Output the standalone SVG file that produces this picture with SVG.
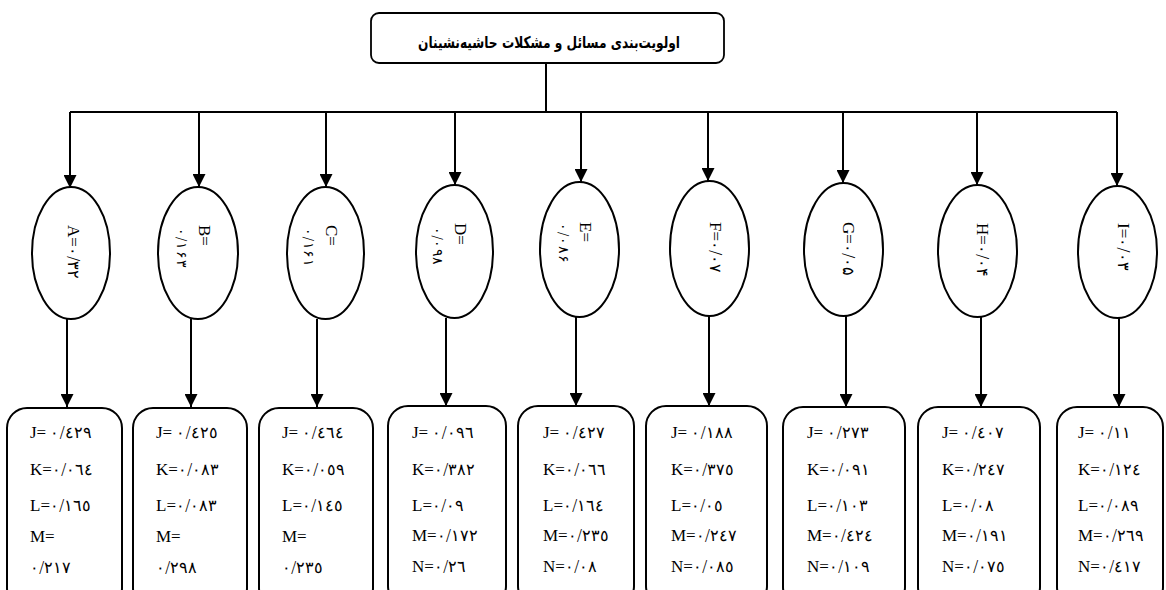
<svg xmlns="http://www.w3.org/2000/svg" width="1166" height="590" viewBox="0 0 1166 590">
<defs>
<marker id="ah" markerUnits="userSpaceOnUse" markerWidth="13" markerHeight="13" refX="13" refY="6.5" orient="auto"><path d="M0,0 L13,6.5 L0,13 z" fill="#000"/></marker>
<style>
.ln{stroke:#000;stroke-width:2;fill:none}
.ar{stroke:#000;stroke-width:2;fill:none;marker-end:url(#ah)}
.el{fill:#fff;stroke:#000;stroke-width:2}
.bx{fill:#fff;stroke:#000;stroke-width:2}
.tb{fill:#fff;stroke:#000;stroke-width:1.8}
.tt{font-family:"DejaVu Sans",sans-serif;font-weight:bold;font-size:16px;fill:#000}
.et{font-family:"Liberation Serif",serif;font-size:17px;fill:#000}
.bt{font-family:"Liberation Serif",serif;font-size:17px;fill:#000}
.d{font-family:"DejaVu Sans",sans-serif;font-weight:200;font-size:16px}
.es{font-family:"DejaVu Sans",sans-serif;font-weight:200;font-size:14px;fill:#000;direction:ltr;unicode-bidi:bidi-override}
</style>
</defs>
<rect width="1166" height="590" fill="#fff"/>
<g id="connectors">
<path class="ln" d="M546,63 V112"/>
<path class="ln" d="M70,112 H1117"/>
<path class="ar" d="M70,112 V188"/>
<path class="ar" d="M199,112 V187"/>
<path class="ar" d="M326,112 V187"/>
<path class="ar" d="M455,112 V185"/>
<path class="ar" d="M581,112 V182"/>
<path class="ar" d="M708,112 V181"/>
<path class="ar" d="M843,112 V183"/>
<path class="ar" d="M977,112 V185"/>
<path class="ar" d="M1117,112 V186"/>
<path class="ar" d="M67,319 V407"/>
<path class="ar" d="M191,319 V407"/>
<path class="ar" d="M317,319 V407"/>
<path class="ar" d="M446,318 V406"/>
<path class="ar" d="M576,317 V406"/>
<path class="ar" d="M709,316 V406"/>
<path class="ar" d="M846,316 V407"/>
<path class="ar" d="M981,317 V407"/>
<path class="ar" d="M1119,318 V407"/>
</g>
<g id="root">
<rect class="tb" x="371" y="13" width="353" height="50" rx="8"/>
<text class="tt" x="549" y="48" text-anchor="middle" direction="rtl" textLength="262" lengthAdjust="spacingAndGlyphs">اولویت‌بندی مسائل و مشکلات حاشیه‌نشینان</text>
</g>
<g id="nodeA"><ellipse class="el" cx="71" cy="253" rx="39" ry="66"/><text class="et" transform="translate(68,225) rotate(90)">A=<tspan class="d">٠/٣٢</tspan></text></g>
<g id="nodeB"><ellipse class="el" cx="198" cy="253" rx="40" ry="66"/><text class="et" transform="translate(199,225) rotate(90)">B=</text><text class="es" transform="translate(177,228) rotate(90)" textLength="40" lengthAdjust="spacing">٠/١۶٣</text></g>
<g id="nodeC"><ellipse class="el" cx="325.5" cy="253" rx="38.5" ry="66"/><text class="et" transform="translate(326,225) rotate(90)">C=</text><text class="es" transform="translate(304,228) rotate(90)" textLength="39" lengthAdjust="spacing">٠/١۶١</text></g>
<g id="nodeD"><ellipse class="el" cx="454.5" cy="251.5" rx="38.5" ry="66.5"/><text class="et" transform="translate(455,223) rotate(90)">D=</text><text class="es" transform="translate(433,227) rotate(90)" textLength="38" lengthAdjust="spacing">٠/٠٩٨</text></g>
<g id="nodeE"><ellipse class="el" cx="579.5" cy="249.5" rx="39.5" ry="67.5"/><text class="et" transform="translate(580,222) rotate(90)">E=</text><text class="es" transform="translate(559,223) rotate(90)" textLength="40" lengthAdjust="spacing">٠/٠٨۶</text></g>
<g id="nodeF"><ellipse class="el" cx="709.5" cy="248.5" rx="39.5" ry="67.5"/><text class="et" transform="translate(710,222) rotate(90)">F=<tspan class="d">٠/٠٧</tspan></text></g>
<g id="nodeG"><ellipse class="el" cx="843.5" cy="249.5" rx="39.5" ry="66.5"/><text class="et" transform="translate(843,222) rotate(90)">G=<tspan class="d">٠/٠۵</tspan></text></g>
<g id="nodeH"><ellipse class="el" cx="977.5" cy="251" rx="39.5" ry="66"/><text class="et" transform="translate(977,223) rotate(90)">H=<tspan class="d">٠/٠۴</tspan></text></g>
<g id="nodeI"><ellipse class="el" cx="1117.5" cy="252" rx="39.5" ry="66"/><text class="et" transform="translate(1118,223) rotate(90)">I=<tspan class="d">٠/٠٣</tspan></text></g>
<g id="boxA"><rect class="bx" x="7" y="408" width="115" height="200" rx="20"/>
<text class="bt" x="30" y="438">J= <tspan class="d">٠/٤٢٩</tspan></text><text class="bt" x="30" y="475">K=<tspan class="d">٠/٠٦٤</tspan></text><text class="bt" x="30" y="511">L=<tspan class="d">٠/١٦٥</tspan></text><text class="bt" x="30" y="542">M=</text><text class="bt" x="30" y="573"><tspan class="d">٠/٢١٧</tspan></text></g>
<g id="boxB"><rect class="bx" x="133" y="408" width="114" height="200" rx="20"/>
<text class="bt" x="156" y="438">J= <tspan class="d">٠/٤٢٥</tspan></text><text class="bt" x="156" y="475">K=<tspan class="d">٠/٠٨٣</tspan></text><text class="bt" x="156" y="511">L=<tspan class="d">٠/٠٨٣</tspan></text><text class="bt" x="156" y="542">M=</text><text class="bt" x="156" y="573"><tspan class="d">٠/٢٩٨</tspan></text></g>
<g id="boxC"><rect class="bx" x="259" y="408" width="114" height="200" rx="20"/>
<text class="bt" x="282" y="438">J= <tspan class="d">٠/٤٦٤</tspan></text><text class="bt" x="282" y="475">K=<tspan class="d">٠/٠٥٩</tspan></text><text class="bt" x="282" y="511">L=<tspan class="d">٠/١٤٥</tspan></text><text class="bt" x="282" y="542">M=</text><text class="bt" x="282" y="573"><tspan class="d">٠/٢٣٥</tspan></text></g>
<g id="boxD"><rect class="bx" x="388" y="406" width="118" height="200" rx="20"/>
<text class="bt" x="412" y="438">J= <tspan class="d">٠/٠٩٦</tspan></text><text class="bt" x="412" y="475">K=<tspan class="d">٠/٣٨٢</tspan></text><text class="bt" x="412" y="511">L=<tspan class="d">٠/٠٩</tspan></text><text class="bt" x="412" y="541">M=<tspan class="d">٠/١٧٢</tspan></text><text class="bt" x="412" y="572">N=<tspan class="d">٠/٢٦</tspan></text></g>
<g id="boxE"><rect class="bx" x="518" y="406" width="116" height="200" rx="20"/>
<text class="bt" x="543" y="438">J= <tspan class="d">٠/٤٢٧</tspan></text><text class="bt" x="543" y="475">K=<tspan class="d">٠/٠٦٦</tspan></text><text class="bt" x="543" y="511">L=<tspan class="d">٠/١٦٤</tspan></text><text class="bt" x="543" y="541">M=<tspan class="d">٠/٢٣٥</tspan></text><text class="bt" x="543" y="572">N=<tspan class="d">٠/٠٨</tspan></text></g>
<g id="boxF"><rect class="bx" x="646" y="406" width="121" height="200" rx="20"/>
<text class="bt" x="671" y="438">J= <tspan class="d">٠/١٨٨</tspan></text><text class="bt" x="671" y="475">K=<tspan class="d">٠/٣٧٥</tspan></text><text class="bt" x="671" y="511">L=<tspan class="d">٠/٠٥</tspan></text><text class="bt" x="671" y="541">M=<tspan class="d">٠/٢٤٧</tspan></text><text class="bt" x="671" y="572">N=<tspan class="d">٠/٠٨٥</tspan></text></g>
<g id="boxG"><rect class="bx" x="783" y="407" width="122" height="200" rx="20"/>
<text class="bt" x="807" y="438">J= <tspan class="d">٠/٢٧٣</tspan></text><text class="bt" x="807" y="475">K=<tspan class="d">٠/٠٩١</tspan></text><text class="bt" x="807" y="511">L=<tspan class="d">٠/١٠٣</tspan></text><text class="bt" x="807" y="541">M=<tspan class="d">٠/٤٢٤</tspan></text><text class="bt" x="807" y="572">N=<tspan class="d">٠/١٠٩</tspan></text></g>
<g id="boxH"><rect class="bx" x="918" y="407" width="122" height="200" rx="20"/>
<text class="bt" x="942" y="438">J= <tspan class="d">٠/٤٠٧</tspan></text><text class="bt" x="942" y="475">K=<tspan class="d">٠/٢٤٧</tspan></text><text class="bt" x="942" y="511">L=<tspan class="d">٠/٠٨</tspan></text><text class="bt" x="942" y="541">M=<tspan class="d">٠/١٩١</tspan></text><text class="bt" x="942" y="572">N=<tspan class="d">٠/٠٧٥</tspan></text></g>
<g id="boxI"><rect class="bx" x="1057" y="407" width="106" height="200" rx="20"/>
<text class="bt" x="1078" y="438">J= <tspan class="d">٠/١١</tspan></text><text class="bt" x="1078" y="475">K=<tspan class="d">٠/١٢٤</tspan></text><text class="bt" x="1078" y="511">L=<tspan class="d">٠/٠٨٩</tspan></text><text class="bt" x="1078" y="541">M=<tspan class="d">٠/٢٦٩</tspan></text><text class="bt" x="1078" y="572">N=<tspan class="d">٠/٤١٧</tspan></text></g>
</svg>
